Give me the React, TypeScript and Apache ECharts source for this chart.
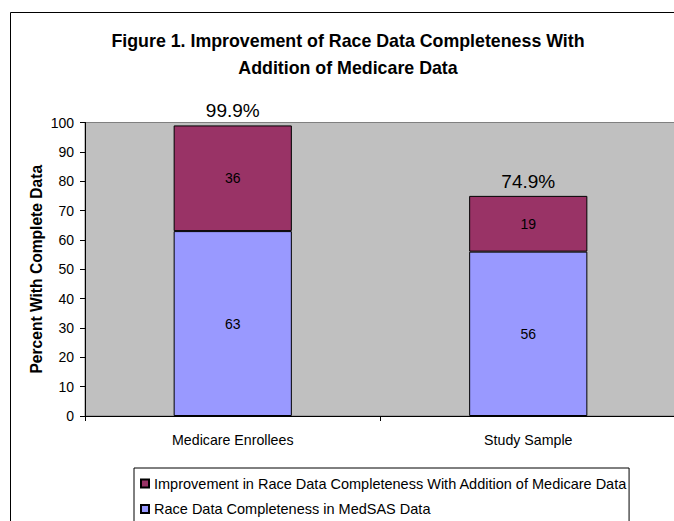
import React, { useEffect, useRef } from "react";
import * as echarts from "echarts";

const categories = ["Medicare Enrollees", "Study Sample"];
const baseValues = [63, 56];
const improvementValues = [36, 19];
const totalLabels = ["99.9%", "74.9%"];
const yTicks = { min: 0, max: 100, interval: 10 };
const baseName = "Race Data Completeness in MedSAS Data";
const improvementName = "Improvement in Race Data Completeness With Addition of Medicare Data";
const titleLines = ["Figure 1. Improvement of Race Data Completeness With", "Addition of Medicare Data"];
const yAxisTitle = "Percent With Complete Data";

const FONT = "'Liberation Sans', Arial, sans-serif";

export default function App() {
  const ref = useRef<HTMLDivElement>(null);
  useEffect(() => {
    if (!ref.current) return;
    const chart = echarts.init(ref.current, undefined, { renderer: "svg" });
    chart.setOption({
      animation: false,
      backgroundColor: "#ffffff",
      textStyle: { fontFamily: FONT },
      graphic: [
        {
          type: "polyline",
          shape: { points: [[10.5, 530], [10.5, 12.5], [690, 12.5]] },
          style: { fill: "none", stroke: "#000000", lineWidth: 1 },
          z: -1,
        },
        {
          type: "text",
          x: 348,
          y: 27,
          style: {
            text: titleLines.join("\n"),
            font: `bold 17.8px ${FONT}`,
            fill: "#000000",
            textAlign: "center",
            lineHeight: 27,
          },
        },
      ],
      grid: {
        left: 85,
        right: -2,
        top: 122.5,
        bottom: 105,
        outerBoundsMode: "none",
        containLabel: false,
        show: true,
        backgroundColor: "#C0C0C0",
        borderColor: "#808080",
        borderWidth: 1,
      },
      legend: {
        orient: "vertical",
        left: 134,
        top: 468,
        height: 80,
        data: [improvementName, baseName],
        itemWidth: 8,
        itemHeight: 8,
        itemGap: 10.5,
        padding: [8, 2, 8, 6],
        borderColor: "#000000",
        borderWidth: 1,
        backgroundColor: "#ffffff",
        textStyle: { fontSize: 14.5, color: "#000000", fontFamily: FONT },
        icon: "rect",
      },
      xAxis: {
        type: "category",
        data: categories,
        axisLine: { lineStyle: { color: "#000000", width: 1 } },
        axisTick: { show: true, length: 5, lineStyle: { color: "#000000" } },
        axisLabel: { fontSize: 14.2, color: "#000000", margin: 17, fontFamily: FONT },
      },
      yAxis: {
        type: "value",
        min: yTicks.min,
        max: yTicks.max,
        interval: yTicks.interval,
        name: yAxisTitle,
        nameLocation: "middle",
        nameGap: 41,
        nameMoveOverlap: false,
        nameTextStyle: { fontSize: 15.6, fontWeight: "bold", color: "#000000", fontFamily: FONT },
        axisLine: { show: true, lineStyle: { color: "#000000", width: 1 } },
        axisTick: { show: true, length: 5, lineStyle: { color: "#000000" } },
        axisLabel: { fontSize: 14, color: "#000000", margin: 11, fontFamily: FONT },
        splitLine: { show: false },
      },
      series: [
        {
          name: baseName,
          type: "bar",
          stack: "total",
          data: baseValues,
          barWidth: "40%",
          itemStyle: { color: "#9999FF", borderColor: "#000000", borderWidth: 1 },
          label: { show: true, position: "inside", fontSize: 14, color: "#000000", fontFamily: FONT },
        },
        {
          name: improvementName,
          type: "bar",
          stack: "total",
          data: improvementValues,
          barWidth: "40%",
          itemStyle: { color: "#993366", borderColor: "#000000", borderWidth: 1 },
          label: { show: true, position: "inside", fontSize: 14, color: "#000000", fontFamily: FONT },
        },
        {
          name: "totals",
          type: "bar",
          stack: "total",
          data: categories.map(() => 0),
          barWidth: "40%",
          itemStyle: { color: "transparent", borderWidth: 0 },
          label: {
            show: true,
            position: "top",
            distance: 5,
            fontSize: 19,
            color: "#000000",
            fontFamily: FONT,
            formatter: (p: any) => totalLabels[p.dataIndex],
          },
          silent: true,
        },
      ],
    });
    return () => chart.dispose();
  }, []);
  return (
    <div
      ref={ref}
      style={{ position: "absolute", left: 0, top: 0, width: 674, height: 521 }}
    />
  );
}
